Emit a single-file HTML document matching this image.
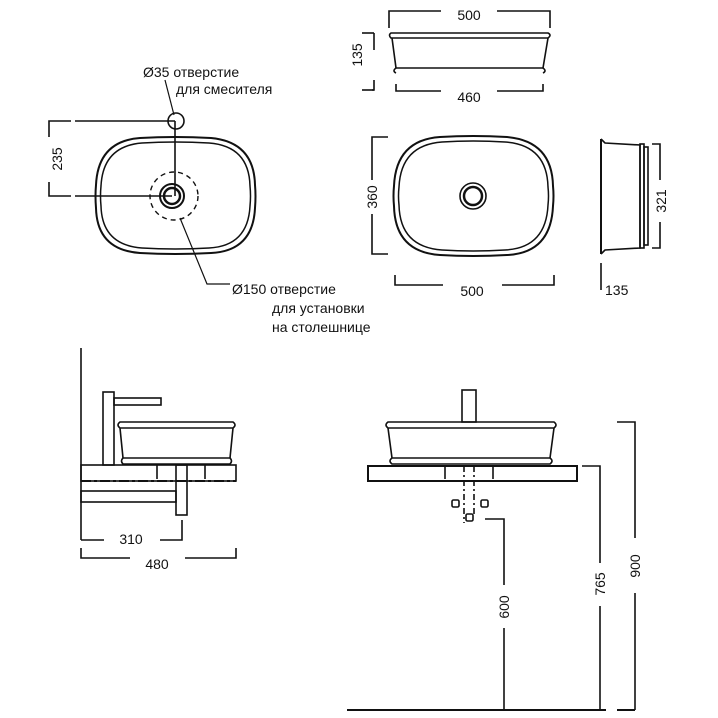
<!DOCTYPE html>
<html><head><meta charset="utf-8"><style>
html,body{margin:0;padding:0;background:#fff;width:718px;height:718px;overflow:hidden}
svg{display:block}
text{font-family:"Liberation Sans","DejaVu Sans",sans-serif;font-size:14px;fill:#111}
</style></head><body>
<svg width="718" height="718" viewBox="0 0 718 718" xmlns="http://www.w3.org/2000/svg">
<g fill="none" stroke="#111" stroke-width="1.6">
<!-- top-left plan -->
<path d="M140,138 Q175,136 211,138 Q254,142 255,185 Q256,196 255,208 Q253,251 211,253 Q175,255 140,253 Q97,250 96,208 Q95,196 96,185 Q98,141 140,138Z" stroke-width="2"/>
<path d="M142,143 Q175,141 209,143 Q249,146 250,186 Q251,196 250,206 Q248,246 209,248 Q175,250 142,248 Q102,245 101,206 Q100,196 101,186 Q103,146 142,143Z" stroke-width="1.5"/>
<circle cx="172" cy="196" r="12" stroke-width="2"/>
<circle cx="172" cy="196" r="8" stroke-width="2.5"/>
<circle cx="174" cy="196" r="24" stroke-dasharray="5,4" stroke-width="1.4"/>
<circle cx="176" cy="121" r="8"/>
<line x1="175" y1="121" x2="175" y2="196"/>
<line x1="75" y1="121" x2="175" y2="121"/>
<line x1="75" y1="196" x2="172" y2="196"/>
<polyline points="71,121 49,121 49,137"/>
<polyline points="71,196 49,196 49,182"/>
<line x1="165" y1="80" x2="174" y2="115" stroke-width="1.2"/>
<polyline points="180,218 207,284 230,284" stroke-width="1.2"/>
<!-- top elevation -->
<path d="M391,33 L548,33 Q552,35 548,38 L391,38 Q388,35 391,33Z"/>
<path d="M392,38 L396,68 M548,38 L543,68"/>
<line x1="396" y1="68" x2="543" y2="68"/>
<path d="M396,68 Q392,71 396,73 M543,68 Q547,71 543,73"/>
<polyline points="389,28 389,11 441,11"/>
<polyline points="497,11 550,11 550,28"/>
<polyline points="374,33 374,50"/>
<polyline points="374,80 374,90 372,90"/>
<line x1="362" y1="33" x2="374" y2="33"/>
<line x1="362" y1="90" x2="374" y2="90"/>
<polyline points="396,84 396,91 441,91"/>
<polyline points="497,91 543,91 543,84"/>
<!-- middle plan -->
<path d="M440,137 Q473,135 507,137 Q552,141 553,186 Q554,196 553,206 Q551,253 507,255 Q473,257 440,255 Q395,252 394,206 Q393,196 394,186 Q396,140 440,137Z" stroke-width="2"/>
<path d="M442,142 Q473,140 505,142 Q547,145 548,187 Q549,196 548,205 Q546,248 505,250 Q473,252 442,250 Q400,247 399,205 Q398,196 399,187 Q401,145 442,142Z" stroke-width="1.5"/>
<circle cx="473" cy="196" r="13" stroke-width="1.6"/>
<circle cx="473" cy="196" r="9" stroke-width="2.5"/>
<polyline points="388,137 372,137 372,180"/>
<polyline points="388,254 372,254 372,214"/>
<polyline points="395,275 395,285 443,285"/>
<polyline points="502,285 554,285 554,275"/>
<!-- side view -->
<line x1="601" y1="139" x2="601" y2="254" stroke-width="2"/>
<path d="M601,139 L605,143 L640,145 L640,248 L605,250 L601,254"/>
<rect x="640" y="144" width="4" height="104"/>
<rect x="644" y="147" width="4" height="98"/>
<polyline points="652,144 660,144 660,180"/>
<polyline points="652,248 660,248 660,222"/>
<line x1="601" y1="263" x2="601" y2="290"/>
<!-- bottom-left side -->
<line x1="81" y1="348" x2="81" y2="540"/>
<rect x="103" y="392" width="11" height="73"/>
<rect x="114" y="398" width="47" height="7"/>
<path d="M120,422 L233,422 Q237,425 233,428 L120,428 Q116,425 120,422Z"/>
<path d="M120,428 L123,458 M233,428 L230,458"/>
<path d="M123,458 L230,458 Q233,461 230,464 L123,464 Q120,461 123,458Z"/>
<rect x="81" y="465" width="155" height="16"/>
<line x1="81" y1="481" x2="236" y2="481" stroke-dasharray="10,3,3,3" stroke-width="2"/>
<line x1="157" y1="465" x2="157" y2="479"/>
<line x1="205" y1="465" x2="205" y2="479"/>
<rect x="81" y="491" width="95" height="11"/>
<rect x="176" y="465" width="11" height="50"/>
<polyline points="81,540 104,540"/>
<polyline points="160,540 182,540 182,520"/>
<polyline points="81,548 81,558 130,558"/>
<polyline points="185,558 236,558 236,548"/>
<!-- bottom-right front -->
<rect x="462" y="390" width="14" height="32"/>
<path d="M388,422 L554,422 Q558,425 554,428 L388,428 Q384,425 388,422Z"/>
<path d="M388,428 L392,458 M554,428 L550,458"/>
<path d="M392,458 L550,458 Q554,461 550,464 L392,464 Q388,461 392,458Z"/>
<rect x="368" y="466" width="209" height="15" stroke-width="2"/>
<line x1="445" y1="466" x2="445" y2="479"/>
<line x1="493" y1="466" x2="493" y2="479"/>
<line x1="464" y1="466" x2="464" y2="523" stroke-dasharray="6,3,2,3"/>
<line x1="474" y1="466" x2="474" y2="515" stroke-dasharray="6,3,2,3"/>
<rect x="452" y="500" width="7" height="7" rx="1.5"/>
<rect x="481" y="500" width="7" height="7" rx="1.5"/>
<rect x="466" y="514" width="7" height="7" rx="1.5"/>
<polyline points="485,519 504,519 504,585"/>
<line x1="504" y1="628" x2="504" y2="710"/>
<polyline points="582,466 600,466 600,563"/>
<line x1="600" y1="606" x2="600" y2="710"/>
<polyline points="617,422 635,422 635,538"/>
<line x1="635" y1="593" x2="635" y2="710"/>
<line x1="347" y1="710" x2="606" y2="710" stroke-width="2"/>
<line x1="617" y1="710" x2="635" y2="710" stroke-width="2"/>
</g>
<text x="143" y="77">Ø35 отверстие</text>
<text x="176" y="94">для смесителя</text>
<text x="232" y="294">Ø150 отверстие</text>
<text x="272" y="313">для установки</text>
<text x="272" y="332">на столешнице</text>
<text transform="translate(62,159) rotate(-90)" text-anchor="middle">235</text>
<text x="469" y="20" text-anchor="middle">500</text>
<text transform="translate(362,55) rotate(-90)" text-anchor="middle">135</text>
<text x="469" y="102" text-anchor="middle">460</text>
<text transform="translate(377,197) rotate(-90)" text-anchor="middle">360</text>
<text x="472" y="296" text-anchor="middle">500</text>
<text transform="translate(666,201) rotate(-90)" text-anchor="middle">321</text>
<text x="605" y="295">135</text>
<text x="131" y="544" text-anchor="middle">310</text>
<text x="157" y="569" text-anchor="middle">480</text>
<text transform="translate(509,607) rotate(-90)" text-anchor="middle">600</text>
<text transform="translate(605,584) rotate(-90)" text-anchor="middle">765</text>
<text transform="translate(640,566) rotate(-90)" text-anchor="middle">900</text>
</svg>
</body></html>
